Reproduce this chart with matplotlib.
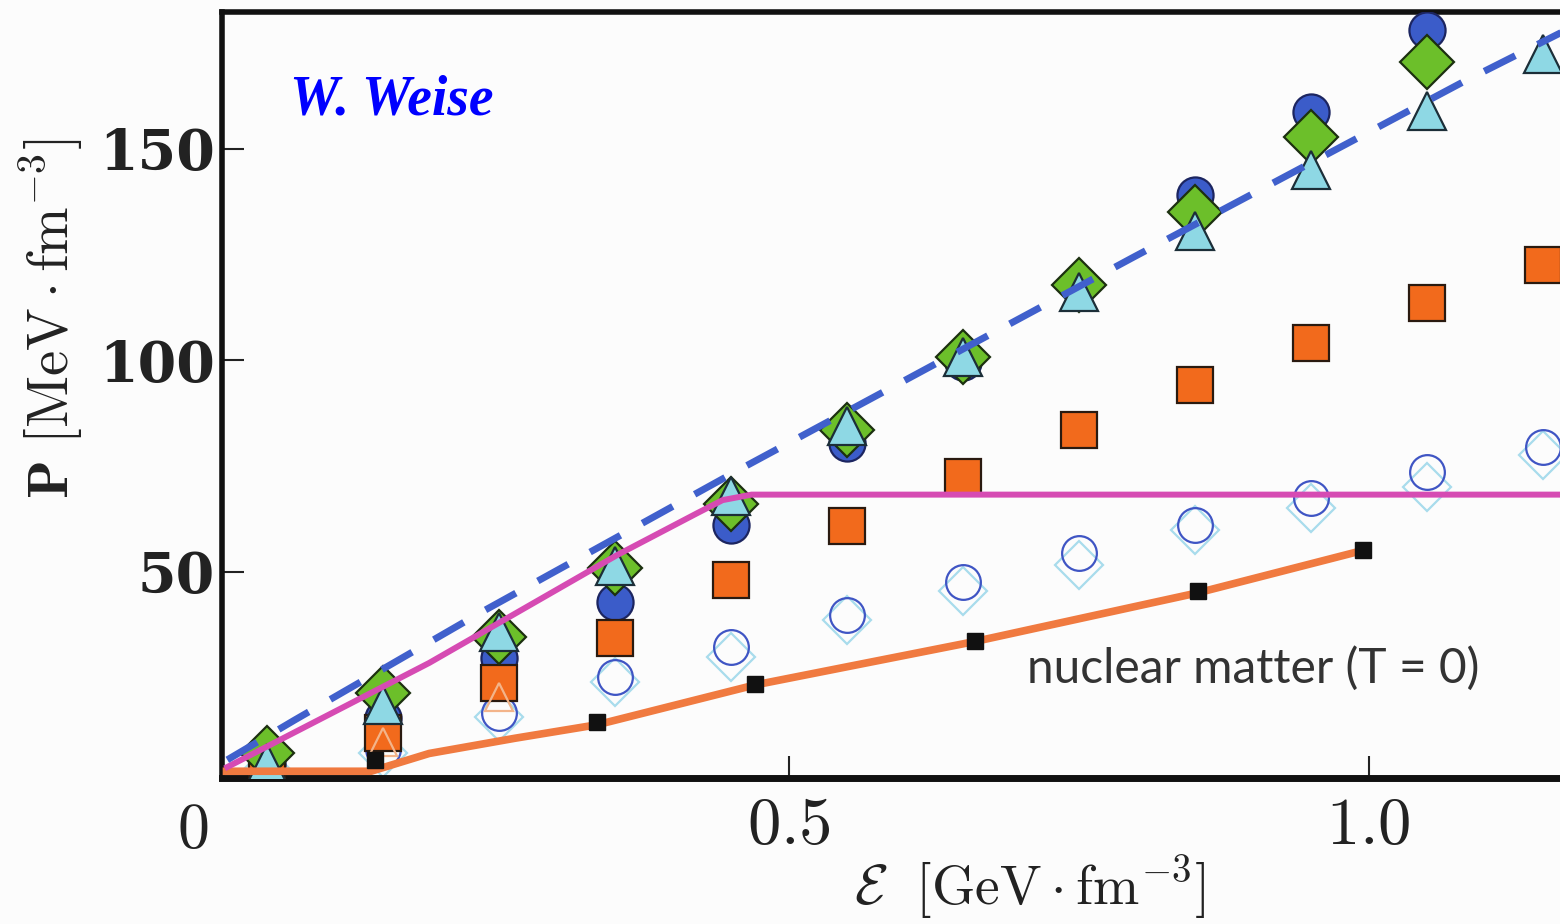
import matplotlib
matplotlib.use("Agg")
import matplotlib.pyplot as plt

plt.rcParams["mathtext.fontset"] = "cm"

# energy density bins (GeV fm^-3)
eps = [0.05, 0.15, 0.25, 0.35, 0.45, 0.55, 0.65, 0.75, 0.85, 0.95, 1.05, 1.15]

# pressure values (MeV fm^-3)
p_circle = [4.5, 15.5, 29.5, 42.8, 61.0, 80.4, 99.5, 118.0, 139.0, 158.6, 178.0]
p_diamond = [7.0, 21.3, 34.5, 50.8, 66.0, 83.5, 100.7, 117.7, 135.0, 152.7, 170.5]
p_triangle = [4.8, 18.4, 35.7, 51.3, 67.8, 84.4, 100.7, 116.0, 130.5, 145.0, 159.0, 172.3]
p_square = [3.5, 11.8, 23.6, 34.3, 48.0, 60.8, 72.3, 83.5, 94.0, 104.0, 113.5, 122.5]
p_open_circle = [3.0, 8.0, 16.5, 25.0, 32.2, 39.7, 47.5, 54.4, 61.0, 67.4, 73.5, 79.4]
p_open_diamond = [3.0, 7.0, 15.6, 23.9, 29.8, 38.5, 45.5, 51.5, 59.8, 65.0, 70.0, 77.5]
eps_open_tri = [0.15, 0.25]
p_open_tri = [9.7, 20.3]

# nuclear matter (T = 0)
eps_nm = [0.143, 0.335, 0.471, 0.661, 0.853, 0.995]
p_nm = [5.5, 14.4, 23.4, 33.6, 45.4, 55.1]
eps_nm_line = [0.012, 0.14, 0.19, 0.264, 0.335, 0.471, 0.661, 0.853, 0.995]
p_nm_line = [2.8, 2.8, 7.0, 10.6, 13.8, 23.2, 33.5, 45.0, 55.0]

# curves
eps_dash = [0.016, 0.074, 0.235, 0.46, 0.797, 1.081, 1.17]
p_dash = [5.5, 14.9, 40.4, 74.5, 124.3, 165.7, 178.0]
eps_mag = [0.016, 0.19, 0.352, 0.421, 0.443, 0.468, 1.17]
p_mag = [3.8, 28.4, 53.9, 63.8, 66.9, 68.2, 68.2]

fig = plt.figure(figsize=(15.6, 9.24), dpi=100, facecolor="#fcfcfc")
ax = fig.add_axes([0.142, 0.158, 0.858, 0.829])
ax.set_facecolor("#fcfcfc")

mk = dict(linestyle="none", markeredgewidth=1.6)
ax.plot(eps, p_open_diamond, marker="D", ms=24, mfc="none", mec="#a8dcec", zorder=2, **mk)
ax.plot(eps, p_open_circle, marker="o", ms=25, mfc="none", mec="#3f55c4", zorder=3, **mk)
ax.plot(eps[:len(p_circle)], p_circle, marker="o", ms=26, mfc="#3b5cc9", mec="#1c2560",
        zorder=4, **mk)
ax.plot(eps, p_square, marker="s", ms=26, mfc="#f26a1c", mec="#2a1a10", zorder=5, **mk)
ax.plot(eps_open_tri, p_open_tri, marker="^", ms=20, mfc="none", mec="#f3b48a", zorder=5.5, **mk)
ax.plot(eps[:len(p_diamond)], p_diamond, marker="D", ms=27, mfc="#6cbf2a", mec="#1c3010",
        zorder=6, **mk)
ax.plot(eps, p_triangle, marker="^", ms=27, mfc="#8ed8e4", mec="#1c2e38", zorder=7, **mk)

ax.plot(eps_nm_line, p_nm_line, color="#f07a40", lw=5.5, solid_capstyle="butt", zorder=8)
ax.plot(eps_nm, p_nm, linestyle="none", marker="s", ms=11, color="#111111", zorder=9)
ax.plot(eps_mag, p_mag, color="#d64bb3", lw=4.3, zorder=10)
ax.plot(eps_dash, p_dash, color="#4060cc", lw=5, dashes=(5, 3.6), zorder=11)

ax.set_xlim(0.011, 1.165)
ax.set_ylim(1.2, 182.3)

for side in ["top", "left", "bottom"]:
    ax.spines[side].set_linewidth(4)
    ax.spines[side].set_color("#111111")
ax.spines["bottom"].set_linewidth(5)
ax.spines["right"].set_visible(False)

ax.set_xticks([0.5, 1.0])
ax.set_xticklabels([r"$0.5$", r"$1.0$"])
ax.set_yticks([50, 100, 150])
ax.set_yticklabels(["50", "100", "150"], family="DejaVu Serif", weight="bold")
ax.tick_params(axis="x", direction="in", length=16, width=1.5, labelsize=48, pad=10,
               colors="#222222")
ax.tick_params(axis="y", direction="in", length=16, width=1.5, labelsize=40, pad=5,
               colors="#222222")
ax.text(-0.01, -0.028, r"$0$", transform=ax.transAxes, ha="right", va="top",
        fontsize=46, color="#222222")

ax.set_xlabel(r"$\mathcal{E}\ \ [\mathrm{GeV}\cdot\mathrm{fm}^{-3}]$", fontsize=40,
              color="#222222")
ax.xaxis.set_label_coords(0.604, -0.098)
ax.set_ylabel(r"$\mathbf{P}\ [\mathrm{MeV}\cdot\mathrm{fm}^{-3}]$", fontsize=41,
              color="#222222")
ax.yaxis.set_label_coords(-0.101, 0.6)

ax.text(0.051, 0.866, "W. Weise", transform=ax.transAxes, fontsize=40,
        family="Liberation Serif", weight="bold", style="italic", color="#0000ff",
        va="baseline")
ax.text(0.602, 0.124, "nuclear matter (T = 0)", transform=ax.transAxes, fontsize=34.5,
        family="Lato", color="#333333", va="baseline")

fig.savefig("out.png", dpi=100, facecolor=fig.get_facecolor())
